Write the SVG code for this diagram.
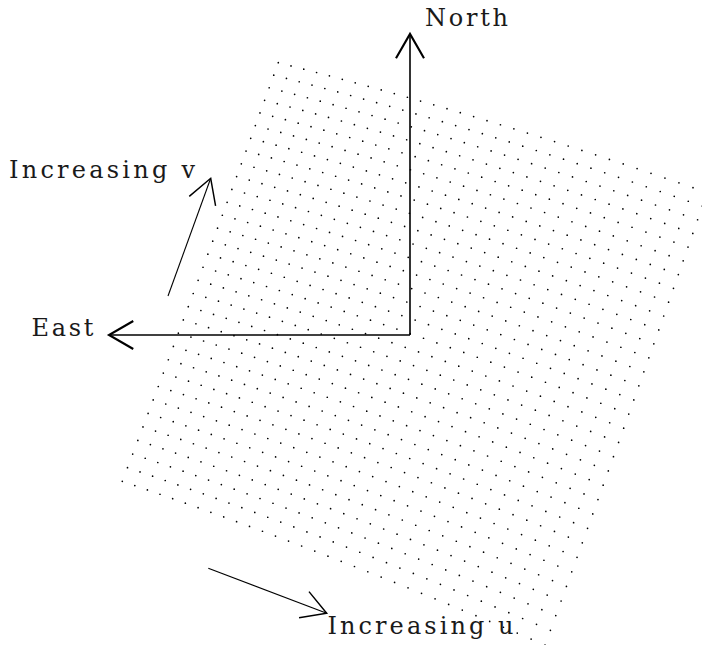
<svg xmlns="http://www.w3.org/2000/svg" xmlns:xlink="http://www.w3.org/1999/xlink" width="702" height="645" viewBox="0 0 702 645">
<style>
.lbl{font-family:"DejaVu Serif","Liberation Serif",serif;font-size:24px;fill:#1a1a1a}
.axis{fill:none;stroke:#000;stroke-width:1.6}
.thin{fill:none;stroke:#000;stroke-width:1.1}
.dots{fill:none;stroke:#000;stroke-width:1.7;stroke-linecap:round;vector-effect:non-scaling-stroke}
</style>
<defs>
<marker id="ahThick" markerUnits="userSpaceOnUse" markerWidth="40" markerHeight="40" viewBox="-25 -15 30 30" refX="0" refY="0" orient="auto" overflow="visible">
<path d="M-18.2,-10.5 L0,0 L-18.2,10.5" fill="none" stroke="#000" stroke-width="1.6"/>
</marker>
<marker id="ahThin" markerUnits="userSpaceOnUse" markerWidth="40" markerHeight="40" viewBox="-25 -15 30 30" refX="0" refY="0" orient="auto" overflow="visible">
<path d="M-18.2,-10.5 L0,0 L-18.2,10.5" fill="none" stroke="#000" stroke-width="1.1"/>
</marker>
<path id="row" class="dots" d="M0 0h0M1 1h0M2 4h0M3 9h0M4 16h0M5 25h0M6 36h0M7 49h0M8 64h0M9 81h0M10 100h0M11 121h0M12 144h0M13 169h0M14 196h0M15 225h0M16 256h0M17 289h0M18 324h0M19 361h0M20 400h0M21 441h0M22 484h0M23 529h0M24 576h0M25 625h0M26 676h0M27 729h0M28 784h0M29 841h0M30 900h0M31 961h0M32 1024h0"/>
</defs>
<g id="grid">
<use xlink:href="#row" href="#row" transform="matrix(12.689 3.183 0.02221 0.02739 278.300 62.700)"/>
<use xlink:href="#row" href="#row" transform="matrix(12.683 3.216 0.02221 0.02739 273.753 75.208)"/>
<use xlink:href="#row" href="#row" transform="matrix(12.677 3.249 0.02221 0.02739 269.185 87.752)"/>
<use xlink:href="#row" href="#row" transform="matrix(12.671 3.282 0.02221 0.02739 264.595 100.334)"/>
<use xlink:href="#row" href="#row" transform="matrix(12.665 3.315 0.02221 0.02739 259.985 112.952)"/>
<use xlink:href="#row" href="#row" transform="matrix(12.659 3.348 0.02221 0.02739 255.353 125.608)"/>
<use xlink:href="#row" href="#row" transform="matrix(12.653 3.381 0.02221 0.02739 250.700 138.300)"/>
<use xlink:href="#row" href="#row" transform="matrix(12.647 3.414 0.02221 0.02739 246.026 151.030)"/>
<use xlink:href="#row" href="#row" transform="matrix(12.641 3.447 0.02221 0.02739 241.331 163.797)"/>
<use xlink:href="#row" href="#row" transform="matrix(12.635 3.480 0.02221 0.02739 236.615 176.600)"/>
<use xlink:href="#row" href="#row" transform="matrix(12.630 3.513 0.02221 0.02739 231.877 189.441)"/>
<use xlink:href="#row" href="#row" transform="matrix(12.624 3.546 0.02221 0.02739 227.119 202.319)"/>
<use xlink:href="#row" href="#row" transform="matrix(12.618 3.579 0.02221 0.02739 222.339 215.233)"/>
<use xlink:href="#row" href="#row" transform="matrix(12.612 3.612 0.02221 0.02739 217.538 228.185)"/>
<use xlink:href="#row" href="#row" transform="matrix(12.606 3.645 0.02221 0.02739 212.716 241.174)"/>
<use xlink:href="#row" href="#row" transform="matrix(12.600 3.678 0.02221 0.02739 207.873 254.200)"/>
<use xlink:href="#row" href="#row" transform="matrix(12.594 3.711 0.02221 0.02739 203.008 267.263)"/>
<use xlink:href="#row" href="#row" transform="matrix(12.588 3.744 0.02221 0.02739 198.123 280.362)"/>
<use xlink:href="#row" href="#row" transform="matrix(12.582 3.777 0.02221 0.02739 193.216 293.499)"/>
<use xlink:href="#row" href="#row" transform="matrix(12.576 3.810 0.02221 0.02739 188.288 306.673)"/>
<use xlink:href="#row" href="#row" transform="matrix(12.570 3.843 0.02221 0.02739 183.339 319.884)"/>
<use xlink:href="#row" href="#row" transform="matrix(12.564 3.876 0.02221 0.02739 178.369 333.132)"/>
<use xlink:href="#row" href="#row" transform="matrix(12.558 3.909 0.02221 0.02739 173.378 346.417)"/>
<use xlink:href="#row" href="#row" transform="matrix(12.552 3.942 0.02221 0.02739 168.365 359.739)"/>
<use xlink:href="#row" href="#row" transform="matrix(12.546 3.975 0.02221 0.02739 163.332 373.098)"/>
<use xlink:href="#row" href="#row" transform="matrix(12.540 4.008 0.02221 0.02739 158.277 386.494)"/>
<use xlink:href="#row" href="#row" transform="matrix(12.534 4.041 0.02221 0.02739 153.201 399.927)"/>
<use xlink:href="#row" href="#row" transform="matrix(12.528 4.074 0.02221 0.02739 148.104 413.397)"/>
<use xlink:href="#row" href="#row" transform="matrix(12.522 4.107 0.02221 0.02739 142.986 426.904)"/>
<use xlink:href="#row" href="#row" transform="matrix(12.516 4.140 0.02221 0.02739 137.846 440.448)"/>
<use xlink:href="#row" href="#row" transform="matrix(12.511 4.173 0.02221 0.02739 132.686 454.029)"/>
<use xlink:href="#row" href="#row" transform="matrix(12.505 4.206 0.02221 0.02739 127.504 467.647)"/>
<use xlink:href="#row" href="#row" transform="matrix(12.499 4.239 0.02221 0.02739 122.301 481.302)"/>
</g>
<g id="connectors">
<path class="axis" d="M410 335 V34" marker-end="url(#ahThick)"/>
<path class="axis" d="M410 335 H109" marker-end="url(#ahThick)"/>
<path class="thin" d="M168 296 L210.7 178.3" marker-end="url(#ahThin)"/>
<path class="thin" d="M208.3 568.3 L326.7 613.3" marker-end="url(#ahThin)"/>
</g>
<g id="north"><text class="lbl" x="425" y="26" textLength="83" lengthAdjust="spacing">North</text></g>
<g id="east"><text class="lbl" x="31.5" y="336" textLength="62" lengthAdjust="spacing">East</text></g>
<g id="increasing-v"><text class="lbl" x="9" y="177.5" textLength="186" lengthAdjust="spacing">Increasing v</text></g>
<g id="increasing-u"><text class="lbl" x="327.5" y="634" textLength="186" lengthAdjust="spacing">Increasing u</text></g>
</svg>
